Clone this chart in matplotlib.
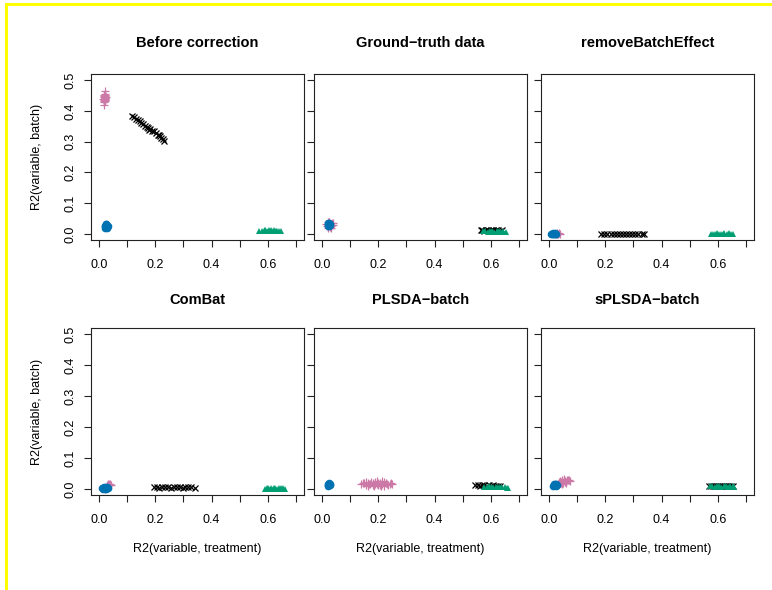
import numpy as np
import matplotlib
matplotlib.use("Agg")
import matplotlib.pyplot as plt
from matplotlib.patches import Rectangle

plt.rcParams['font.family'] = ['Liberation Sans', 'DejaVu Sans']

# ---------------- data: R2(variable, treatment) vs R2(variable, batch) ----------------
titles = ["Before correction", "Ground\u2212truth data", "removeBatchEffect",
          "ComBat", "PLSDA\u2212batch", "sPLSDA\u2212batch"]

# Before correction
before_blue_x = [0.022, 0.026, 0.030, 0.024, 0.028, 0.020, 0.025, 0.032, 0.027, 0.023, 0.029, 0.026]
before_blue_y = [0.024, 0.028, 0.022, 0.031, 0.019, 0.026, 0.021, 0.027, 0.033, 0.018, 0.025, 0.023]
before_pink_x = [0.018, 0.020, 0.022, 0.019, 0.021, 0.017, 0.023, 0.020, 0.019, 0.022, 0.020, 0.018,
                 0.021, 0.020, 0.019, 0.021, 0.016, 0.024, 0.017, 0.023]
before_pink_y = [0.445, 0.438, 0.450, 0.432, 0.441, 0.447, 0.436, 0.455, 0.428, 0.443, 0.465, 0.420,
                 0.439, 0.452, 0.434, 0.446, 0.440, 0.444, 0.452, 0.433]
before_black_x = [0.118, 0.126, 0.131, 0.138, 0.145, 0.150, 0.158, 0.164, 0.171, 0.176, 0.182, 0.188,
                  0.195, 0.203, 0.210, 0.216, 0.222, 0.228, 0.232, 0.178, 0.214]
before_black_y = [0.385, 0.379, 0.374, 0.371, 0.366, 0.360, 0.357, 0.352, 0.346, 0.344, 0.340, 0.336,
                  0.333, 0.327, 0.321, 0.318, 0.313, 0.307, 0.303, 0.339, 0.321]
before_green_x = [0.570, 0.578, 0.585, 0.590, 0.597, 0.603, 0.609, 0.615, 0.620, 0.627, 0.633, 0.640,
                  0.646, 0.588, 0.612, 0.630]
before_green_y = [0.008, 0.010, 0.009, 0.012, 0.010, 0.011, 0.009, 0.010, 0.012, 0.008, 0.010, 0.009,
                  0.008, 0.011, 0.012, 0.009]

# Ground-truth data
truth_blue_x = [0.020, 0.024, 0.028, 0.022, 0.026, 0.030, 0.025, 0.023, 0.027, 0.021]
truth_blue_y = [0.030, 0.033, 0.028, 0.026, 0.035, 0.031, 0.024, 0.036, 0.029, 0.032]
truth_pink_x = [0.018, 0.025, 0.032, 0.036, 0.022, 0.029, 0.040, 0.016, 0.034, 0.027, 0.038, 0.020]
truth_pink_y = [0.024, 0.038, 0.027, 0.034, 0.019, 0.022, 0.036, 0.031, 0.020, 0.040, 0.029, 0.037]
truth_black_x = [0.563, 0.570, 0.576, 0.582, 0.588, 0.594, 0.600, 0.606, 0.612, 0.619, 0.626, 0.633, 0.640]
truth_black_y = [0.011, 0.012, 0.010, 0.011, 0.013, 0.010, 0.011, 0.012, 0.010, 0.011, 0.012, 0.010, 0.011]
truth_green_x = [0.572, 0.580, 0.588, 0.596, 0.604, 0.612, 0.620, 0.628, 0.636, 0.644, 0.652, 0.600, 0.625]
truth_green_y = [0.008, 0.009, 0.007, 0.008, 0.009, 0.007, 0.008, 0.009, 0.007, 0.008, 0.007, 0.006, 0.006]

# removeBatchEffect
rbe_blue_x = [0.008, 0.012, 0.016, 0.020, 0.024, 0.014, 0.018, 0.022]
rbe_blue_y = [0.000, 0.001, 0.000, 0.001, 0.000, 0.002, 0.001, 0.002]
rbe_pink_x = [0.024, 0.030, 0.036, 0.040, 0.028, 0.034]
rbe_pink_y = [0.001, 0.000, 0.002, 0.001, 0.002, 0.000]
rbe_black_x = [0.185, 0.197, 0.208, 0.219, 0.230, 0.241, 0.252, 0.263, 0.274, 0.285, 0.296, 0.307,
               0.318, 0.329, 0.337]
rbe_black_y = [0.000, 0.001, 0.000, 0.000, 0.001, 0.000, 0.000, 0.001, 0.000, 0.000, 0.001, 0.000,
               0.000, 0.001, 0.000]
rbe_green_x = [0.575, 0.583, 0.591, 0.599, 0.607, 0.615, 0.623, 0.631, 0.639, 0.647, 0.653, 0.595, 0.620, 0.640]
rbe_green_y = [0.001, 0.000, 0.001, 0.000, 0.001, 0.000, 0.001, 0.000, 0.001, 0.000, 0.001, 0.003, 0.003, 0.003]

# ComBat
combat_blue_x = [0.012, 0.016, 0.020, 0.024, 0.028, 0.032, 0.018, 0.026, 0.022, 0.030]
combat_blue_y = [0.002, 0.000, 0.003, 0.001, 0.004, 0.002, 0.005, 0.006, 0.000, 0.005]
combat_pink_x = [0.030, 0.034, 0.038, 0.042, 0.036, 0.033, 0.040]
combat_pink_y = [0.012, 0.015, 0.013, 0.011, 0.017, 0.010, 0.014]
combat_black_x = [0.195, 0.205, 0.215, 0.225, 0.236, 0.246, 0.256, 0.266, 0.277, 0.287, 0.297, 0.307,
                  0.318, 0.328, 0.340]
combat_black_y = [0.005, 0.006, 0.004, 0.005, 0.006, 0.005, 0.004, 0.005, 0.006, 0.005, 0.004, 0.005,
                  0.006, 0.005, 0.004]
combat_green_x = [0.590, 0.597, 0.604, 0.611, 0.618, 0.625, 0.632, 0.639, 0.646, 0.653, 0.660, 0.600, 0.622, 0.645]
combat_green_y = [0.001, 0.002, 0.001, 0.002, 0.001, 0.002, 0.001, 0.002, 0.001, 0.002, 0.001, 0.004, 0.004, 0.004]

# PLSDA-batch
plsda_blue_x = [0.020, 0.024, 0.028, 0.022, 0.026, 0.030, 0.025, 0.021]
plsda_blue_y = [0.013, 0.016, 0.012, 0.010, 0.018, 0.014, 0.011, 0.017]
plsda_pink_x = [0.140, 0.150, 0.158, 0.165, 0.172, 0.180, 0.187, 0.194, 0.200, 0.207, 0.214, 0.222,
                0.230, 0.240, 0.250, 0.162, 0.185, 0.210, 0.195, 0.175, 0.220, 0.155, 0.235,
                0.168, 0.182, 0.198, 0.205, 0.226, 0.145, 0.190, 0.215, 0.245]
plsda_pink_y = [0.015, 0.018, 0.012, 0.020, 0.016, 0.013, 0.022, 0.017, 0.011, 0.019, 0.015, 0.021,
                0.014, 0.017, 0.015, 0.009, 0.008, 0.010, 0.024, 0.023, 0.009, 0.021, 0.012,
                0.014, 0.019, 0.020, 0.013, 0.018, 0.018, 0.015, 0.024, 0.019]
plsda_black_x = [0.545, 0.553, 0.561, 0.569, 0.577, 0.585, 0.593, 0.601, 0.609, 0.617, 0.625, 0.632]
plsda_black_y = [0.011, 0.012, 0.010, 0.011, 0.012, 0.010, 0.011, 0.009, 0.011, 0.010, 0.009, 0.010]
plsda_green_x = [0.577, 0.585, 0.593, 0.601, 0.609, 0.617, 0.625, 0.633, 0.641, 0.649, 0.657, 0.662]
plsda_green_y = [0.007, 0.006, 0.008, 0.006, 0.007, 0.005, 0.007, 0.006, 0.005, 0.006, 0.004, 0.003]

# sPLSDA-batch
splsda_blue_x = [0.016, 0.020, 0.024, 0.028, 0.018, 0.022, 0.026]
splsda_blue_y = [0.010, 0.013, 0.009, 0.012, 0.015, 0.016, 0.014]
splsda_pink_x = [0.032, 0.038, 0.044, 0.050, 0.056, 0.062, 0.068, 0.074, 0.040, 0.048, 0.055, 0.046,
                 0.060, 0.036, 0.052, 0.064, 0.042, 0.058, 0.070]
splsda_pink_y = [0.014, 0.018, 0.022, 0.020, 0.025, 0.023, 0.027, 0.024, 0.026, 0.030, 0.031, 0.015,
                 0.018, 0.022, 0.028, 0.030, 0.019, 0.021, 0.029]
splsda_black_x = [0.568, 0.575, 0.582, 0.589, 0.596, 0.603, 0.610, 0.617, 0.624, 0.631, 0.638, 0.645, 0.652]
splsda_black_y = [0.009, 0.010, 0.008, 0.009, 0.010, 0.008, 0.009, 0.010, 0.008, 0.009, 0.010, 0.008, 0.009]
splsda_green_x = [0.572, 0.580, 0.588, 0.596, 0.604, 0.612, 0.620, 0.628, 0.636, 0.644, 0.652, 0.658]
splsda_green_y = [0.008, 0.009, 0.007, 0.008, 0.009, 0.007, 0.008, 0.009, 0.007, 0.008, 0.009, 0.007]

x_ticks = [0.0, 0.1, 0.2, 0.3, 0.4, 0.5, 0.6, 0.7]
x_tick_labels = ["0.0", "", "0.2", "", "0.4", "", "0.6", ""]
y_ticks = [0.0, 0.1, 0.2, 0.3, 0.4, 0.5]
y_tick_labels = ["0.0", "0.1", "0.2", "0.3", "0.4", "0.5"]

panels = [
    ((before_pink_x, before_pink_y), (before_blue_x, before_blue_y),
     (before_black_x, before_black_y), (before_green_x, before_green_y)),
    ((truth_pink_x, truth_pink_y), (truth_blue_x, truth_blue_y),
     (truth_black_x, truth_black_y), (truth_green_x, truth_green_y)),
    ((rbe_pink_x, rbe_pink_y), (rbe_blue_x, rbe_blue_y),
     (rbe_black_x, rbe_black_y), (rbe_green_x, rbe_green_y)),
    ((combat_pink_x, combat_pink_y), (combat_blue_x, combat_blue_y),
     (combat_black_x, combat_black_y), (combat_green_x, combat_green_y)),
    ((plsda_pink_x, plsda_pink_y), (plsda_blue_x, plsda_blue_y),
     (plsda_black_x, plsda_black_y), (plsda_green_x, plsda_green_y)),
    ((splsda_pink_x, splsda_pink_y), (splsda_blue_x, splsda_blue_y),
     (splsda_black_x, splsda_black_y), (splsda_green_x, splsda_green_y)),
]

# marker, colour, size, edge width for pink / blue / black / green groups
styles = [
    dict(marker='+', color='#CC79A7', ms=5.5, mew=0.9),
    dict(marker='o', color='#0072B2', ms=5.5, mew=0.0),
    dict(marker='x', color='black', ms=4.0, mew=0.9),
    dict(marker='^', color='#009E73', ms=5.0, mew=0.0),
]

# ---------------- layout ----------------
W, H = 772, 590
fig = plt.figure(figsize=(W / 100, H / 100), dpi=100)
fig.patch.set_facecolor('white')

col_left = [91, 314, 541]
box_w = 213
row_top = [74, 328]
box_h = [166, 167]

FS = 9

for i, (title, groups) in enumerate(zip(titles, panels)):
    r, c = divmod(i, 3)
    left = col_left[c] / W
    bottom = 1 - (row_top[r] + box_h[r]) / H
    ax = fig.add_axes([left, bottom, box_w / W, box_h[r] / H])
    for (gx, gy), st in zip(groups, styles):
        ax.plot(gx, gy, linestyle='none', marker=st['marker'], color=st['color'],
                markersize=st['ms'], markeredgewidth=st['mew'],
                markeredgecolor=st['color'])
    ax.set_xlim(-0.028, 0.728)
    ax.set_ylim(-0.02, 0.52)
    ax.set_xticks(x_ticks)
    ax.set_xticklabels(x_tick_labels, fontsize=FS)
    ax.set_yticks(y_ticks)
    if c == 0:
        ax.set_yticklabels(y_tick_labels, fontsize=FS, rotation=90, va='center')
    else:
        ax.set_yticklabels([])
    ax.tick_params(direction='out', length=5, width=0.8, color='#222222')
    ax.tick_params(axis='x', pad=9)
    ax.tick_params(axis='y', pad=5.5)
    for sp in ax.spines.values():
        sp.set_linewidth(0.8)
        sp.set_color('#222222')

    cx = (col_left[c] + box_w / 2) / W
    ty = 43 if r == 0 else 300
    fig.text(cx, 1 - ty / H, title, ha='center', va='center',
             fontsize=10.5, fontweight='bold')
    if c == 0:
        cy = row_top[r] + box_h[r] / 2
        fig.text(37 / W, 1 - cy / H, "R2(variable, batch)", rotation=90,
                 ha='center', va='center', fontsize=FS)
    if r == 1:
        fig.text(cx, 1 - 549 / H, "R2(variable, treatment)", ha='center',
                 va='center', fontsize=FS)

# yellow frame lines along the top and left edges
fig.add_artist(Rectangle((5 / W, 0), 3 / W, 1 - 3 / H, transform=fig.transFigure,
                         facecolor='#FFFF00', edgecolor='none'))
fig.add_artist(Rectangle((5 / W, 1 - 5.5 / H), 1, 2.5 / H, transform=fig.transFigure,
                         facecolor='#FFFF00', edgecolor='none'))

fig.savefig("out.png", dpi=100, facecolor='white')
